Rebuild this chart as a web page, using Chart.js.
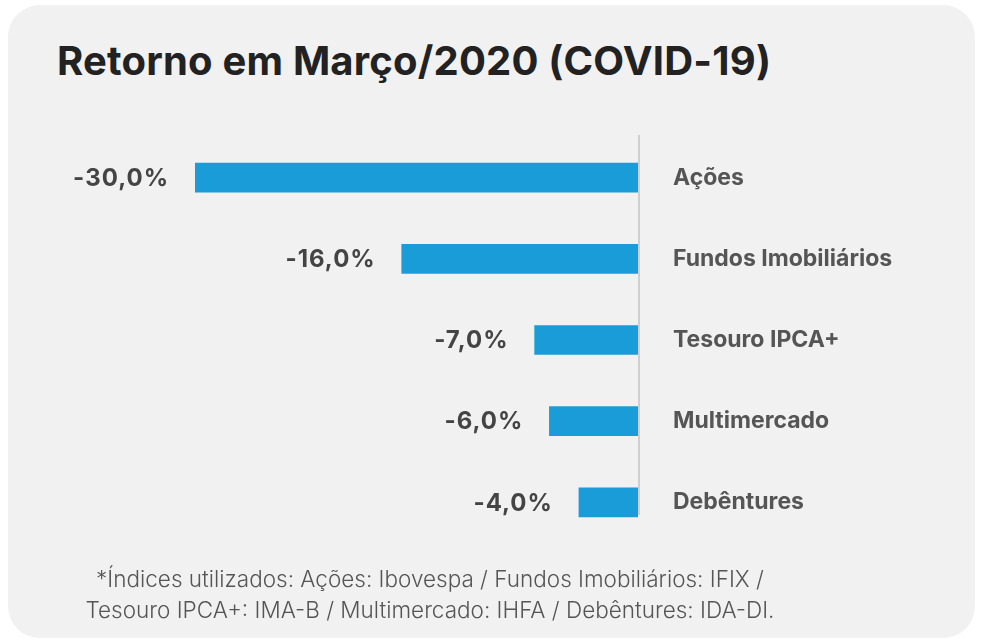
<!DOCTYPE html>
<html>
<head>
<meta charset="utf-8">
<script src="https://cdn.jsdelivr.net/npm/chart.js@4/dist/chart.umd.min.js"></script>
<style>
  body { margin: 0; background: #fff; font-family: Inter, "Noto Sans", sans-serif; }
  #card { position: absolute; left: 8px; top: 5px; width: 967px; height: 633px; background: #f1f1f1; border-radius: 32px; }
  #title { position: absolute; left: 57px; top: 36px; font-size: 40px; font-weight: 700; color: #222; letter-spacing: 0.2px; }
  #wrap { position: absolute; left: 0; top: 0; width: 981px; height: 643px; }
  #note { position: absolute; left: 0; width: 860px; top: 563px; text-align: center; font-size: 22.5px; font-weight: 300; color: #555; line-height: 31px; }
</style>
</head>
<body>
<div id="card"></div>
<div id="title">Retorno em Março/2020 (COVID-19)</div>
<div id="wrap"><canvas id="chart" width="981" height="643"></canvas></div>
<div id="note">*Índices utilizados: Ações: Ibovespa / Fundos Imobiliários: IFIX /<br>Tesouro IPCA+: IMA-B / Multimercado: IHFA / Debêntures: IDA-DI.</div>
<script>
const categories = ['Ações', 'Fundos Imobiliários', 'Tesouro IPCA+', 'Multimercado', 'Debêntures'];
const returns = [-30, -16, -7, -6, -4];

const valueLabels = {
  id: 'valueLabels',
  afterDatasetsDraw(chart) {
    const ctx = chart.ctx;
    const meta = chart.getDatasetMeta(0);
    ctx.save();
    ctx.font = '700 24px Inter, sans-serif';
    ctx.letterSpacing = '1px';
    ctx.fillStyle = '#444';
    ctx.textAlign = 'right';
    ctx.textBaseline = 'middle';
    meta.data.forEach((bar, i) => {
      ctx.fillText(returns[i].toFixed(1).replace('.', ',') + '%', bar.x - 26, bar.y + 1);
    });
    // linha vertical do zero
    const x0 = chart.scales.x.getPixelForValue(0);
    ctx.strokeStyle = '#cfcfcf';
    ctx.lineWidth = 2;
    ctx.beginPath();
    ctx.moveTo(x0 + 1, 135);
    ctx.lineTo(x0 + 1, 515);
    ctx.stroke();
    ctx.restore();
  }
};

new Chart(document.getElementById('chart'), {
  type: 'bar',
  data: {
    labels: categories,
    datasets: [{
      data: returns,
      backgroundColor: '#1a9cd8',
      barThickness: 29
    }]
  },
  options: {
    indexAxis: 'y',
    responsive: false,
    animation: false,
    layout: { padding: { left: 195, top: 137, bottom: 100, right: 0 } },
    plugins: { legend: { display: false }, tooltip: { enabled: false } },
    scales: {
      x: { min: -30, max: 0, display: false },
      y: {
        position: 'right',
        grid: { display: false },
        border: { display: false },
        ticks: { padding: 27, color: '#555', font: { family: 'Inter', size: 23, weight: '700' } },
        afterFit(scale) { scale.width = 981 - 638; }
      }
    }
  },
  plugins: [valueLabels]
});
</script>
</body>
</html>
